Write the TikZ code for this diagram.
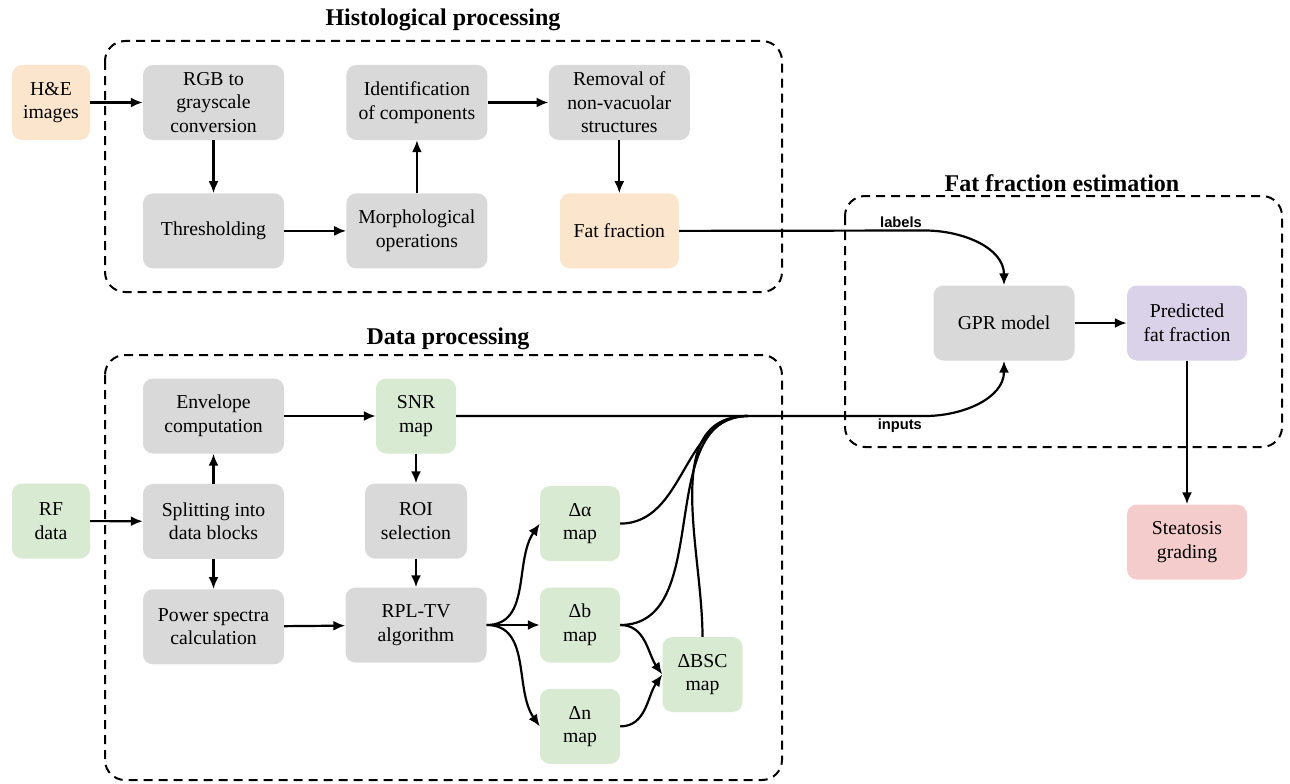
\documentclass[tikz,border=0pt]{standalone}
\usepackage{fontspec}
\setmainfont{Liberation Serif}
\newfontfamily\lblfont{Liberation Sans}
\usetikzlibrary{arrows.meta,positioning}
\definecolor{boxgray}{RGB}{217,217,217}
\definecolor{peach}{RGB}{252,229,205}
\definecolor{mint}{RGB}{217,234,211}
\definecolor{lilac}{RGB}{217,210,233}
\definecolor{rose}{RGB}{244,204,204}

\begin{document}
\begin{tikzpicture}[
  x=1pt,y=1pt,
  node distance=53pt and 62pt,
  box/.style={rounded corners=10pt,align=center,fill=boxgray,minimum width=141pt,minimum height=75pt,inner sep=2pt,font=\fontsize{19.7}{23.5}\selectfont},
  sbox/.style={box,minimum width=80pt},
  grp/.style={draw,line width=2pt,dash pattern=on 9pt off 6pt,rounded corners=20pt},
  ttl/.style={font=\fontsize{24}{28}\selectfont\bfseries},
  lbl/.style={font=\lblfont\bfseries\fontsize{14.7}{17}\selectfont,inner sep=2pt},
  ar/.style={line width=2.2pt,-{Latex[length=12pt,width=10pt]}},
  ln/.style={line width=2.2pt}
]
\useasboundingbox (0,0) rectangle (1290,-784);
% frames
\draw[grp] (105,-41) rectangle (782,-292);
\draw[grp] (105,-355) rectangle (782,-780);
\draw[grp] (845,-196) rectangle (1282,-447);
\node[ttl] (thisto) at (443,-20) {Histological processing};
\node[ttl] (tdata) at (448,-339) {Data processing};
\node[ttl] (tfat) at (1062,-183) {Fat fraction estimation};
% histological processing
\node[box,fill=peach,minimum width=78pt] (he) at (51,-102.5) {H\&E\\images};
\node[box] (rgb) at (213.5,-102.5) {RGB to\\grayscale\\conversion};
\node[box,below=of rgb] (thr) {Thresholding};
\node[box,right=of thr] (morph) {Morphological\\operations};
\node[box,above=of morph] (ident) {Identification\\of components};
\node[box,right=61pt of ident] (remov) {Removal of\\non-vacuolar\\structures};
\node[box,fill=peach,minimum width=119pt,below=of remov] (fatfr) {Fat fraction};
% data processing
\node[box] (env) at (213.5,-416) {Envelope\\computation};
\node[box,below=30pt of env] (split) {Splitting into\\data blocks};
\node[box,below=30pt of split] (pow) {Power spectra\\calculation};
\node[box,fill=mint,minimum width=78pt] (rf) at (51,-521) {RF\\data};
\node[sbox,fill=mint] (snr) at (416,-416) {SNR\\map};
\node[box,minimum width=102pt] (roi) at (416,-521) {ROI\\selection};
\node[box] (rpl) at (416,-625) {RPL-TV\\algorithm};
\node[sbox,fill=mint] (db) at (580,-625) {Δb\\map};
\node[sbox,fill=mint,above=26pt of db] (dal) {Δα\\map};
\node[sbox,fill=mint,below=26pt of db] (dn) {Δn\\map};
\node[sbox,fill=mint] (dbsc) at (702.5,-674.5) {ΔBSC\\map};
% fat fraction estimation
\node[box] (gpr) at (1004,-323) {GPR model};
\node[box,fill=lilac,minimum width=120pt] (pred) at (1187,-323) {Predicted\\fat fraction};
\node[box,fill=rose,minimum width=120pt] (steat) at (1187,-542) {Steatosis\\grading};
\coordinate (bendL) at (925,-230.5);
\coordinate (bendI) at (925,-416);
\coordinate (merge) at (748,-416);
% connectors
\draw[ar] (he) -- (rgb);
\draw[ar] (rgb) -- (thr);
\draw[ar] (thr) -- (morph);
\draw[ar] (morph) -- (ident);
\draw[ar] (ident) -- (remov);
\draw[ar] (remov) -- (fatfr);
\draw[ar] (fatfr.east) -- (bendL) node[lbl,above left]{labels} to[out=0,in=90] (gpr.north);
\draw[ar] (rf) -- (split);
\draw[ar] (split) -- (env);
\draw[ar] (split) -- (pow);
\draw[ar] (env) -- (snr);
\draw[ar] (snr) -- (roi);
\draw[ar] (roi) -- (rpl);
\draw[ar] (pow) -- (rpl);
\draw[ar] (rpl.east) to[out=0,in=-125] (dal.west);
\draw[ar] (rpl.east) -- (db.west);
\draw[ar] (rpl.east) to[out=0,in=125] (dn.west);
\draw[ar] (db.east) to[out=0,in=125] (dbsc.west);
\draw[ar] (dn.east) to[out=0,in=-125] (dbsc.west);
\draw[ln] (dal.east) to[out=0,in=180] (merge);
\draw[ln] (db.east) to[out=0,in=180] (merge);
\draw[ln] (dbsc.north) to[out=90,in=180] (merge);
\draw[ar] (snr.east) -- (bendI) node[lbl,below left]{inputs} to[out=0,in=-90] (gpr.south);
\draw[ar] (gpr) -- (pred);
\draw[ar] (pred) -- (steat);
\end{tikzpicture}
\end{document}
